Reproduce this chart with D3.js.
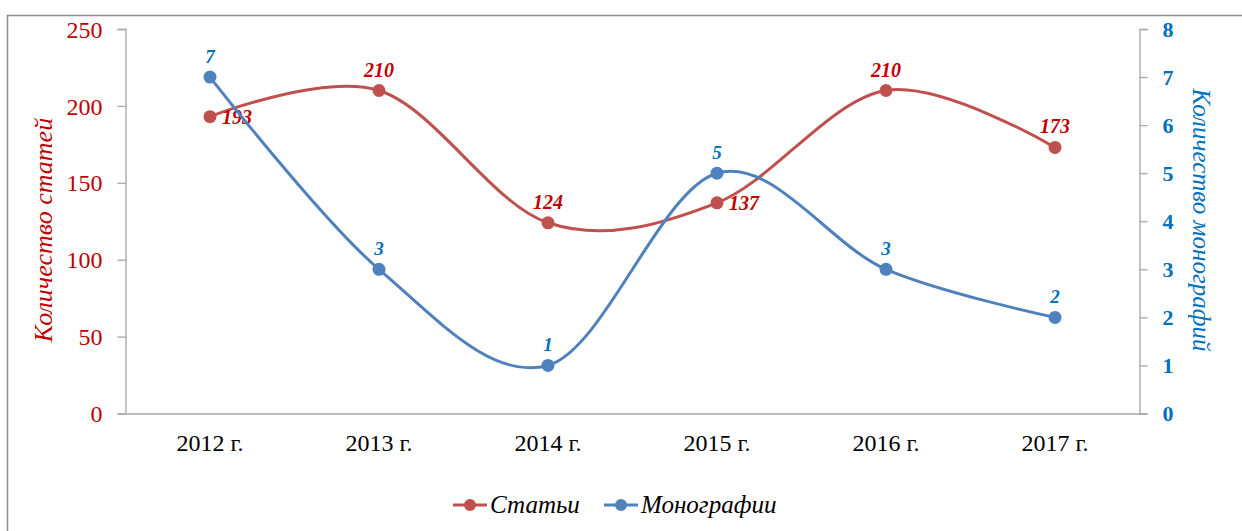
<!DOCTYPE html>
<html><head><meta charset="utf-8">
<script src="https://cdn.jsdelivr.net/npm/d3@7"></script>
<style>body{margin:0;background:#fff}svg{display:block}</style>
</head><body>
<script>
const categories = ["2012 г.","2013 г.","2014 г.","2015 г.","2016 г.","2017 г."];
const articles = [193, 210, 124, 137, 210, 173];
const monographs = [7, 3, 1, 5, 3, 2];
const leftTicks = [0, 50, 100, 150, 200, 250];
const rightTicks = [0, 1, 2, 3, 4, 5, 6, 7, 8];
const articlesLabelPos = ["right","top","top","right","top","top"];
const seriesNames = ["Статьи","Монографии"];

const W = 1242, H = 531;
const svg = d3.select("body").append("svg").attr("width", W).attr("height", H);
const serif = "'Liberation Serif','Times New Roman',serif";
const RED = "#C0504D", BLUE = "#4F81BD", RED_T = "#C00000", BLUE_T = "#0070C0", AX = "#a6a6a6";

svg.append("rect").attr("x", 7.5).attr("y", 15.5).attr("width", 1250).attr("height", 530)
  .attr("fill", "none").attr("stroke", "#8c8c8c").attr("stroke-width", 1.5);

const L = 125.5, R = 1139.5, T = 29, B = 413.5;
const x = d3.scaleBand().domain(categories).range([L, R]);
const cx = c => x(c) + x.bandwidth() / 2;
const yL = d3.scaleLinear().domain([0, 250]).range([B, T]);
const yR = d3.scaleLinear().domain([0, 8]).range([B, T]);

// left axis
const gl = svg.append("g").attr("transform", `translate(${L},0)`)
  .call(d3.axisLeft(yL).tickValues(leftTicks).tickSize(8).tickPadding(15));
gl.select(".domain").attr("stroke", AX).attr("stroke-width", 1.3);
gl.selectAll(".tick line").attr("stroke", AX).attr("stroke-width", 1.3);
gl.selectAll(".tick text").attr("fill", RED_T).attr("font-family", serif).attr("font-size", 24).attr("dy", "0.34em");

// right axis
const gr = svg.append("g").attr("transform", `translate(${R},0)`)
  .call(d3.axisRight(yR).tickValues(rightTicks).tickSize(8).tickPadding(15));
gr.select(".domain").attr("stroke", AX).attr("stroke-width", 1.3);
gr.selectAll(".tick line").attr("stroke", AX).attr("stroke-width", 1.3);
gr.selectAll(".tick text").attr("fill", BLUE_T).attr("font-family", serif).attr("font-size", 22)
  .attr("font-weight", "bold").attr("dy", "0.34em");

// bottom axis
const gb = svg.append("g").attr("transform", `translate(0,${B})`)
  .call(d3.axisBottom(x).tickSize(0).tickPadding(20));
gb.select(".domain").attr("stroke", AX).attr("stroke-width", 1.3);
gb.selectAll(".tick text").attr("fill", "#000").attr("font-family", serif).attr("font-size", 24);

// axis titles
svg.append("text").attr("transform", `translate(52,230) rotate(-90)`).attr("text-anchor", "middle")
  .attr("font-family", serif).attr("font-style", "italic").attr("font-size", 26).attr("fill", RED_T)
  .text("Количество статей");
svg.append("text").attr("transform", `translate(1193,220) rotate(90)`).attr("text-anchor", "middle")
  .attr("font-family", serif).attr("font-style", "italic").attr("font-size", 25).attr("fill", BLUE_T)
  .text("Количество монографий");

const curve = d3.curveCardinal.tension(0);
function series(data, y, color, tcolor, pos, fs) {
  const line = d3.line().x((d, i) => cx(categories[i])).y(d => y(d)).curve(curve);
  svg.append("path").datum(data).attr("d", line).attr("fill", "none")
    .attr("stroke", color).attr("stroke-width", 3);
  svg.append("g").selectAll("circle").data(data).join("circle")
    .attr("cx", (d, i) => cx(categories[i])).attr("cy", d => y(d)).attr("r", 6.5).attr("fill", color);
  svg.append("g").selectAll("text").data(data).join("text")
    .attr("x", (d, i) => cx(categories[i]) + (pos && pos[i] === "right" ? 12 : 0))
    .attr("y", (d, i) => y(d) + (pos && pos[i] === "right" ? 7 : -14))
    .attr("text-anchor", (d, i) => pos && pos[i] === "right" ? "start" : "middle")
    .attr("font-family", serif).attr("font-style", "italic").attr("font-weight", "bold")
    .attr("font-size", fs).attr("fill", tcolor).text(d => d);
}
series(articles, yL, RED, RED_T, articlesLabelPos, 20);
series(monographs, yR, BLUE, BLUE_T, null, 19);

// legend
const leg = [{name: seriesNames[0], c: RED, x: 453}, {name: seriesNames[1], c: BLUE, x: 604}];
const lg = svg.append("g");
leg.forEach(d => {
  lg.append("line").attr("x1", d.x).attr("x2", d.x + 34).attr("y1", 505).attr("y2", 505)
    .attr("stroke", d.c).attr("stroke-width", 3);
  lg.append("circle").attr("cx", d.x + 17).attr("cy", 505).attr("r", 6).attr("fill", d.c);
  lg.append("text").attr("x", d.x + 37).attr("y", 513).attr("font-family", serif)
    .attr("font-style", "italic").attr("font-size", 25).attr("fill", "#000").text(d.name);
});
</script>
</body></html>
